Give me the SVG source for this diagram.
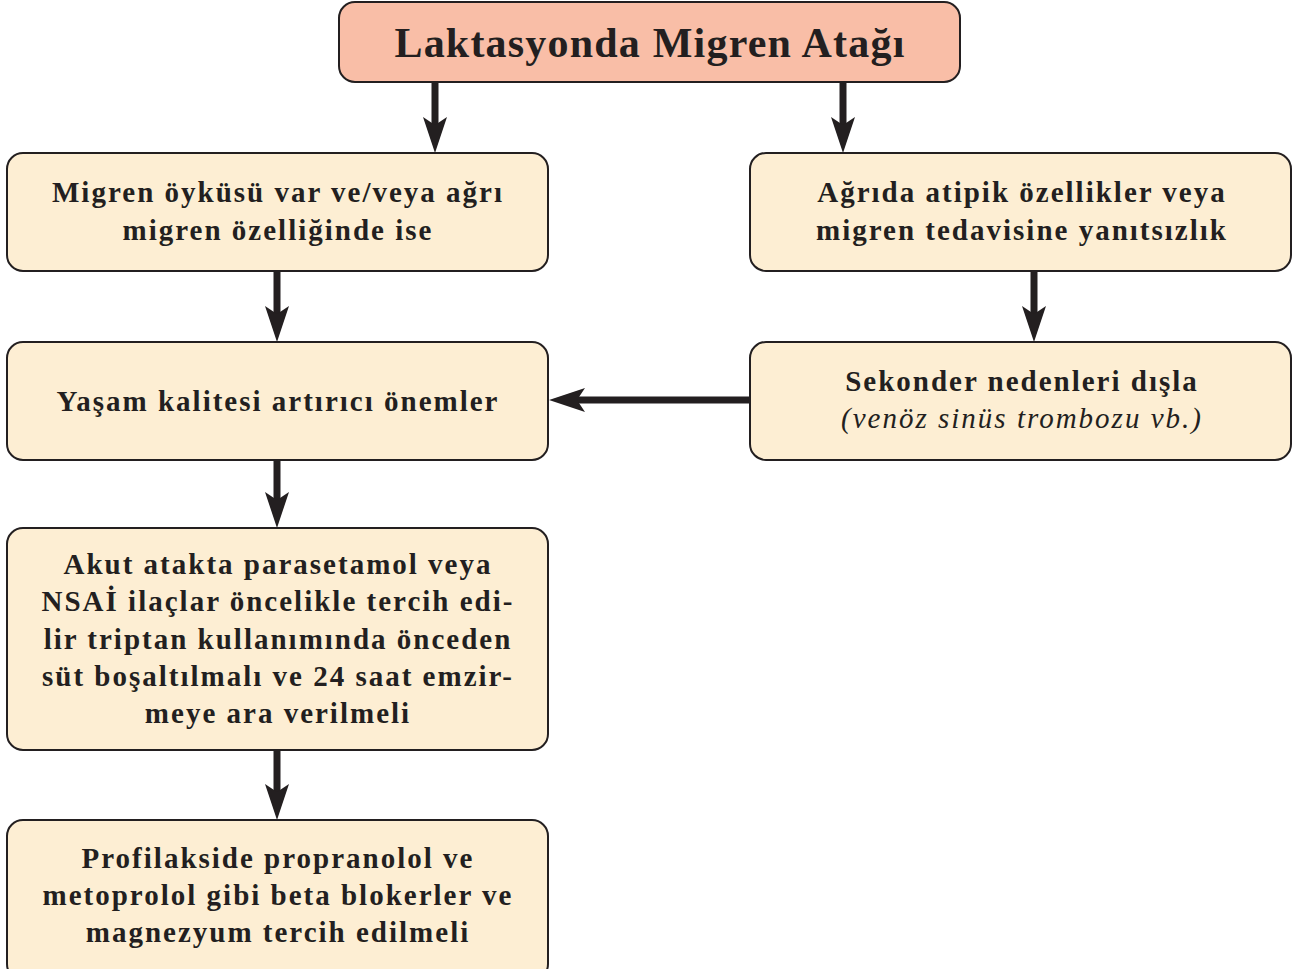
<svg xmlns="http://www.w3.org/2000/svg" width="1298" height="969" viewBox="0 0 1298 969">
<style>
.box{fill:#fdeed3;stroke:#231f20;stroke-width:2}
.title{fill:#f9bea7;stroke:#231f20;stroke-width:2}
text{font-family:"Liberation Serif","Times New Roman",serif;font-weight:bold;fill:#231f20;text-anchor:middle}
.t{font-size:29px;letter-spacing:2px}
.tt{font-size:42px;letter-spacing:1.2px}
.it{font-style:italic;font-weight:normal}
.conn line{stroke:#231f20;stroke-width:7}
</style>
<defs>
<marker id="ah" viewBox="0 -13 36 26" refX="10" refY="0" markerWidth="36" markerHeight="26" markerUnits="userSpaceOnUse" orient="auto">
<path d="M36,0 L0,-12 L8,0 L0,12 Z" fill="#231f20"/>
</marker>
</defs>
<g class="conn">
<line x1="435" y1="82" x2="435" y2="127" marker-end="url(#ah)"/>
<line x1="843" y1="82" x2="843" y2="127" marker-end="url(#ah)"/>
<line x1="277" y1="271" x2="277" y2="316" marker-end="url(#ah)"/>
<line x1="1034" y1="271" x2="1034" y2="316" marker-end="url(#ah)"/>
<line x1="750" y1="400" x2="575" y2="400" marker-end="url(#ah)"/>
<line x1="277" y1="460" x2="277" y2="502" marker-end="url(#ah)"/>
<line x1="277" y1="750" x2="277" y2="794" marker-end="url(#ah)"/>
</g>
<g id="n0">
<rect class="title" x="339" y="2" width="621" height="80" rx="16"/>
<text class="tt" x="650" y="57">Laktasyonda Migren Atağı</text>
</g>
<g id="n1">
<rect class="box" x="7" y="153" width="541" height="118" rx="16"/>
<text class="t" x="278" y="202">Migren öyküsü var ve/veya ağrı</text>
<text class="t" x="278" y="240">migren özelliğinde ise</text>
</g>
<g id="n2">
<rect class="box" x="750" y="153" width="541" height="118" rx="16"/>
<text class="t" x="1022" y="202">Ağrıda atipik özellikler veya</text>
<text class="t" x="1022" y="240">migren tedavisine yanıtsızlık</text>
</g>
<g id="n3">
<rect class="box" x="7" y="342" width="541" height="118" rx="16"/>
<text class="t" x="278" y="411">Yaşam kalitesi artırıcı önemler</text>
</g>
<g id="n4">
<rect class="box" x="750" y="342" width="541" height="118" rx="16"/>
<text class="t" x="1022" y="391">Sekonder nedenleri dışla</text>
<text class="t it" x="1022" y="428">(venöz sinüs trombozu vb.)</text>
</g>
<g id="n5">
<rect class="box" x="7" y="528" width="541" height="222" rx="16"/>
<text class="t" x="278" y="574">Akut atakta parasetamol veya</text>
<text class="t" x="278" y="611">NSAİ ilaçlar öncelikle tercih edi-</text>
<text class="t" x="278" y="649">lir triptan kullanımında önceden</text>
<text class="t" x="278" y="686">süt boşaltılmalı ve 24 saat emzir-</text>
<text class="t" x="278" y="723">meye ara verilmeli</text>
</g>
<g id="n6">
<rect class="box" x="7" y="820" width="541" height="160" rx="16"/>
<text class="t" x="278" y="868">Profilakside propranolol ve</text>
<text class="t" x="278" y="905">metoprolol gibi beta blokerler ve</text>
<text class="t" x="278" y="942">magnezyum tercih edilmeli</text>
</g>
</svg>
